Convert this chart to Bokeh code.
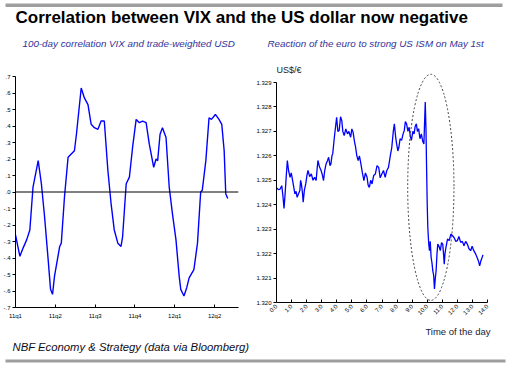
from bokeh.plotting import figure
from bokeh.models import FixedTicker, Span, Label, Range1d
from bokeh.layouts import column, row
from bokeh.embed import file_html
from bokeh.resources import INLINE

# ---------------- data ----------------
title_text = "Correlation between VIX and the US dollar now negative"
left_subtitle = "100-day correlation VIX and trade-weighted USD"
right_subtitle = "Reaction of the euro to strong US ISM on May 1st"
footer_text = "NBF Economy & Strategy (data via Bloomberg)"
right_unit = "US$/€"
right_xlabel = "Time of the day"

# Left chart: 100-day correlation (x in quarters since 11q1)
corr_quarters = [0.00, 0.11, 0.19, 0.28, 0.36, 0.44, 0.57, 0.65, 0.73, 0.82, 0.88, 0.93,
                 0.98, 1.11, 1.15, 1.23, 1.32, 1.40, 1.48, 1.53, 1.65, 1.73, 1.82, 1.90,
                 1.98, 2.07, 2.15, 2.23, 2.32, 2.40, 2.48, 2.57, 2.65, 2.69, 2.78, 2.86,
                 2.94, 3.03, 3.11, 3.19, 3.28, 3.36, 3.47, 3.53, 3.57, 3.63, 3.69, 3.78,
                 3.86, 3.94, 4.03, 4.11, 4.15, 4.23, 4.30, 4.36, 4.48, 4.57, 4.65, 4.69,
                 4.78, 4.86, 4.92, 5.02, 5.11, 5.18, 5.24, 5.28, 5.33]
corr_values = [-0.26, -0.39, -0.34, -0.29, -0.23, 0.03, 0.19, 0.05, -0.15, -0.41, -0.59, -0.62,
               -0.51, -0.33, -0.31, -0.03, 0.21, 0.23, 0.25, 0.35, 0.63, 0.57, 0.53, 0.41,
               0.39, 0.38, 0.43, 0.43, 0.13, -0.07, -0.23, -0.31, -0.33, -0.27, 0.05, 0.09,
               0.27, 0.44, 0.42, 0.43, 0.42, 0.29, 0.15, 0.20, 0.19, 0.35, 0.39, 0.33,
               0.03, -0.13, -0.29, -0.51, -0.59, -0.63, -0.58, -0.52, -0.47, -0.31, 0.00, 0.01,
               0.19, 0.45, 0.44, 0.47, 0.44, 0.41, 0.25, -0.01, -0.04]
corr_x_ticks = [0, 1, 2, 3, 4, 5]
corr_x_labels = ["11q1", "11q2", "11q3", "11q4", "12q1", "12q2"]
corr_y_ticks = [-0.7, -0.6, -0.5, -0.4, -0.3, -0.2, -0.1, 0.0, 0.1, 0.2, 0.3, 0.4, 0.5, 0.6, 0.7]
corr_y_labels = ["-.7", "-.6", "-.5", "-.4", "-.3", "-.2", "-.1", ".0", ".1", ".2", ".3", ".4", ".5", ".6", ".7"]

# Right chart: EUR/USD on May 1st (x in hours)
eur_hours = [0.00, 0.12, 0.24, 0.35, 0.42, 0.50, 0.57, 0.65, 0.72, 0.80, 0.90, 0.98,
             1.07, 1.15, 1.22, 1.30, 1.37, 1.46, 1.55, 1.60, 1.65, 1.72, 1.77, 1.85,
             1.94, 2.02, 2.09, 2.20, 2.31, 2.42, 2.53, 2.63, 2.70, 2.75, 2.85, 2.96,
             3.05, 3.12, 3.20, 3.29, 3.38, 3.46, 3.55, 3.61, 3.68, 3.73, 3.84, 3.92,
             3.99, 4.07, 4.16, 4.25, 4.33, 4.40, 4.49, 4.60, 4.71, 4.80, 4.92, 5.00,
             5.08, 5.17, 5.25, 5.33, 5.42, 5.50, 5.58, 5.70, 5.80, 5.90, 6.01, 6.08,
             6.16, 6.25, 6.34, 6.45, 6.56, 6.67, 6.78, 6.88, 6.99, 7.10, 7.21, 7.32,
             7.43, 7.55, 7.65, 7.75, 7.82, 7.90, 7.97, 8.05, 8.12, 8.20, 8.30, 8.40,
             8.48, 8.55, 8.63, 8.72, 8.80, 8.88, 8.95, 9.05, 9.13, 9.20, 9.28, 9.35,
             9.43, 9.52, 9.61, 9.70, 9.78, 9.87, 9.92, 9.95, 10.00, 10.04, 10.10, 10.15,
             10.20, 10.26, 10.32, 10.37, 10.43, 10.48, 10.54, 10.59, 10.65, 10.70, 10.78, 10.87,
             10.95, 11.03, 11.08, 11.13, 11.18, 11.24, 11.35, 11.46, 11.57, 11.68, 11.78, 11.90,
             12.00, 12.10, 12.22, 12.33, 12.44, 12.55, 12.66, 12.77, 12.88, 12.98, 13.09, 13.20,
             13.31, 13.40, 13.48, 13.56, 13.64, 13.70]
eur_values = [1.32470, 1.32462, 1.32464, 1.32478, 1.32440, 1.32385, 1.32444, 1.32520, 1.32581, 1.32540, 1.32512, 1.32530,
              1.32499, 1.32470, 1.32444, 1.32455, 1.32430, 1.32445, 1.32458, 1.32500, 1.32485, 1.32450, 1.32410, 1.32460,
              1.32485, 1.32520, 1.32540, 1.32515, 1.32526, 1.32500, 1.32512, 1.32499, 1.32550, 1.32581, 1.32555, 1.32540,
              1.32520, 1.32499, 1.32540, 1.32567, 1.32580, 1.32594, 1.32560, 1.32567, 1.32600, 1.32608, 1.32676, 1.32720,
              1.32758, 1.32700, 1.32704, 1.32760, 1.32745, 1.32700, 1.32683, 1.32710, 1.32690, 1.32700, 1.32676, 1.32710,
              1.32697, 1.32660, 1.32635, 1.32600, 1.32581, 1.32600, 1.32574, 1.32530, 1.32499, 1.32530, 1.32512, 1.32480,
              1.32471, 1.32500, 1.32485, 1.32520, 1.32526, 1.32560, 1.32553, 1.32510, 1.32526, 1.32540, 1.32512, 1.32540,
              1.32553, 1.32600, 1.32635, 1.32700, 1.32731, 1.32680, 1.32649, 1.32620, 1.32635, 1.32670, 1.32663, 1.32690,
              1.32704, 1.32740, 1.32731, 1.32700, 1.32717, 1.32680, 1.32663, 1.32700, 1.32690, 1.32720, 1.32731, 1.32700,
              1.32711, 1.32670, 1.32690, 1.32660, 1.32649, 1.32820, 1.32704, 1.32581, 1.32403, 1.32307, 1.32240, 1.32212,
              1.32250, 1.32184, 1.32160, 1.32130, 1.32110, 1.32055, 1.32100, 1.32130, 1.32200, 1.32239, 1.32230, 1.32212,
              1.32245, 1.32239, 1.32200, 1.32157, 1.32200, 1.32225, 1.32260, 1.32253, 1.32280, 1.32273, 1.32266, 1.32250,
              1.32253, 1.32270, 1.32246, 1.32250, 1.32232, 1.32250, 1.32239, 1.32220, 1.32212, 1.32230, 1.32212, 1.32200,
              1.32184, 1.32170, 1.32150, 1.32170, 1.32184, 1.32195]
eur_x_ticks = list(range(15))
eur_x_labels = ["0:0", "1:0", "2:0", "3:0", "4:0", "5:0", "6:0", "7:0", "8:0", "9:0",
                "10:0", "11:0", "12:0", "13:0", "14:0"]
eur_y_ticks = [1.320, 1.321, 1.322, 1.323, 1.324, 1.325, 1.326, 1.327, 1.328, 1.329]
eur_y_labels = ["1.320", "1.321", "1.322", "1.323", "1.324", "1.325", "1.326", "1.327", "1.328", "1.329"]

# highlight ellipse around the ISM reaction (hours, EUR/USD)
ellipse_center = [10.24, 1.32471]
ellipse_size = [3.07, 0.00925]

# ---------------- styling ----------------
SANS = "'Liberation Sans', Arial, sans-serif"
BLUE = "#0000ff"
SUB = "#333399"
BAR = "#9e9e9e"
TICK_FONT = "6px"


def style_axes(p):
    for ax in (p.xaxis[0], p.yaxis[0]):
        ax.axis_line_color = "black"
        ax.axis_line_width = 1
        ax.major_tick_line_color = "black"
        ax.minor_tick_line_color = None
        ax.major_label_text_font = SANS
        ax.major_label_text_font_size = TICK_FONT
        ax.major_label_text_color = "black"
    p.xaxis[0].major_tick_in = 3
    p.xaxis[0].major_tick_out = 0
    p.yaxis[0].major_tick_in = 0
    p.yaxis[0].major_tick_out = 3
    p.yaxis[0].major_label_standoff = 2
    p.xgrid.visible = False
    p.ygrid.visible = False
    p.outline_line_color = None
    p.background_fill_color = "white"
    p.border_fill_color = "white"


def blank(width, height):
    f = figure(width=width, height=height, x_range=Range1d(0, width), y_range=Range1d(0, height),
               x_axis_location=None, y_axis_location=None, toolbar_location=None,
               output_backend="svg", min_border=0)
    f.outline_line_color = None
    f.xgrid.visible = False
    f.ygrid.visible = False
    return f


W = 508

# ---------------- header (y 0..60) ----------------
header = blank(W, 60)
header.quad(left=[5], right=[502], bottom=[53.5], top=[57], color=BAR, line_color=None)
header.add_layout(Label(x=15, y=34, text=title_text, text_font=SANS, text_font_style="bold",
                        text_font_size="17px", text_color="black"))
header.add_layout(Label(x=22, y=11.5, text=left_subtitle, text_font=SANS, text_font_style="italic",
                        text_font_size="9.8px", text_color=SUB))
header.add_layout(Label(x=267, y=11.5, text=right_subtitle, text_font=SANS, text_font_style="italic",
                        text_font_size="9.8px", text_color=SUB))

# ---------------- left chart (y 60..327) ----------------
left = figure(width=253, height=267, x_range=Range1d(0, 5.6), y_range=Range1d(-0.7, 0.7),
              toolbar_location=None, output_backend="svg",
              min_border_left=14, min_border_right=15, min_border_top=16, min_border_bottom=20)
style_axes(left)
left.xaxis[0].ticker = FixedTicker(ticks=corr_x_ticks)
left.xaxis[0].major_label_overrides = dict(zip(corr_x_ticks, corr_x_labels))
left.xaxis[0].major_label_standoff = 5
left.yaxis[0].ticker = FixedTicker(ticks=corr_y_ticks)
left.yaxis[0].major_label_overrides = dict(zip(corr_y_ticks, corr_y_labels))
left.add_layout(Span(location=0, dimension="width", line_color="black", line_width=1))
left.line(corr_quarters, corr_values, line_color=BLUE, line_width=1.4)

# ---------------- right chart (y 60..327) ----------------
right = figure(width=255, height=267, x_range=Range1d(0, 14), y_range=Range1d(1.320, 1.329737),
               toolbar_location=None, output_backend="svg",
               min_border_left=20, min_border_right=21, min_border_top=4, min_border_bottom=25)
style_axes(right)
right.yaxis[0].bounds = (1.320, 1.329)
right.xaxis[0].ticker = FixedTicker(ticks=eur_x_ticks)
right.xaxis[0].major_label_overrides = dict(zip(eur_x_ticks, eur_x_labels))
right.xaxis[0].major_label_orientation = 0.785
right.xaxis[0].major_label_standoff = 3
right.yaxis[0].ticker = FixedTicker(ticks=eur_y_ticks)
right.yaxis[0].major_label_overrides = dict(zip(eur_y_ticks, eur_y_labels))
right.line(eur_hours, eur_values, line_color=BLUE, line_width=1.3)
right.ellipse(x=[ellipse_center[0]], y=[ellipse_center[1]], width=[ellipse_size[0]],
              height=[ellipse_size[1]], fill_color=None, line_color="#444444",
              line_dash="2 2", line_width=1)
right.add_layout(Label(x=0.0, y=1.32929, text=right_unit, text_font=SANS,
                       text_font_size="9px", text_color="#1a1a1a"))

# ---------------- footer (y 327..367) ----------------
footer = blank(W, 40)
footer.add_layout(Label(x=490, y=31, text=right_xlabel, text_font=SANS,
                        text_font_size="9.5px", text_color="#1a1a33", text_align="right"))
footer.quad(left=[5], right=[505], bottom=[5], top=[8], color=BAR, line_color=None)
footer.add_layout(Label(x=12, y=15, text=footer_text, text_font=SANS, text_font_style="italic",
                        text_font_size="11.3px", text_color="#0d0d1a"))

layout = column(header, row(column(left), column(right)), footer)
open("out.html", "w").write(file_html(layout, INLINE))
